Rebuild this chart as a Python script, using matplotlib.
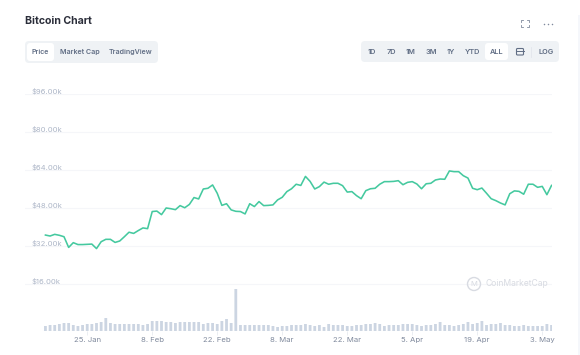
import pandas as pd
import matplotlib
matplotlib.use('Agg')
import matplotlib.pyplot as plt
from matplotlib.patches import FancyBboxPatch, Rectangle, Circle

plt.rcParams['font.family'] = ['Inter', 'DejaVu Sans']

# Daily values
start_date = '2021-01-16'
prices = [36.6, 36.2, 36.9, 36.5, 35.9, 31.4, 33.4, 32.6, 32.6, 32.7,
          32.8, 30.9, 33.8, 34.8, 34.8, 33.5, 34.1, 35.9, 37.8, 37.3,
          38.5, 39.6, 39.3, 46.5, 46.7, 45.2, 48.0, 47.7, 47.3, 49.0,
          48.1, 49.5, 52.4, 51.8, 56.0, 56.3, 57.7, 54.2, 49.1, 49.8,
          47.2, 46.6, 46.5, 45.5, 49.8, 48.6, 50.7, 49.0, 49.1, 49.3,
          51.4, 52.5, 54.9, 56.1, 58.0, 57.5, 61.3, 59.2, 56.0, 57.0,
          58.9, 58.0, 58.4, 58.4, 57.4, 54.7, 54.9, 53.2, 51.9, 55.3,
          56.1, 56.3, 58.0, 59.1, 59.1, 59.2, 59.5, 57.8, 58.8, 59.1,
          58.1, 56.1, 58.2, 58.4, 59.8, 60.2, 60.1, 63.6, 63.3, 63.3,
          61.6, 60.6, 56.3, 55.7, 56.4, 54.2, 51.9, 51.1, 50.1, 49.3,
          54.0, 55.2, 55.0, 53.8, 58.0, 58.0, 56.7, 57.1, 53.6, 57.5]
volumes = [50, 60, 60, 70, 80, 80, 60, 50, 60, 70,
           70, 80, 90, 130, 80, 70, 70, 70, 70, 70,
           70, 60, 70, 100, 100, 100, 90, 90, 80, 90,
           90, 90, 90, 90, 70, 80, 80, 70, 100, 120,
           80, 420, 60, 60, 60, 60, 60, 60, 60, 50,
           40, 50, 50, 60, 60, 60, 70, 60, 50, 60,
           40, 70, 60, 60, 60, 50, 50, 60, 60, 70,
           70, 80, 70, 50, 60, 60, 60, 70, 70, 70,
           60, 50, 60, 60, 70, 90, 60, 60, 50, 60,
           70, 90, 70, 80, 100, 60, 70, 70, 80, 60,
           60, 50, 50, 60, 50, 50, 50, 50, 70, 60]
price_ticks = [16, 32, 48, 64, 80, 96]
price_labels = ['$16.00k', '$32.00k', '$48.00k', '$64.00k', '$80.00k', '$96.00k']
date_ticks = ['2021-01-25', '2021-02-08', '2021-02-22', '2021-03-08',
              '2021-03-22', '2021-04-05', '2021-04-19', '2021-05-03']
date_labels = ['25. Jan', '8. Feb', '22. Feb', '8. Mar',
               '22. Mar', '5. Apr', '19. Apr', '3. May']
tabs = ['Price', 'Market Cap', 'TradingView']
ranges = ['1D', '7D', '1M', '3M', '1Y', 'YTD', 'ALL']

W, H = 580, 355
fig = plt.figure(figsize=(W / 100, H / 100), dpi=100)

dates = pd.date_range(start_date, periods=len(prices), freq='D')

# Chart area: 25..552 px across, 94..331 px down
ax = fig.add_axes([25 / W, (H - 331) / H, 527 / W, 237 / H])
ax.set_xlim(dates[0] - pd.Timedelta(days=4.4), dates[0] + pd.Timedelta(days=109.1))
ax.set_ylim(-3.8, 96)
ax.set_yticks(price_ticks)
ax.set_yticklabels([])
ax.tick_params(axis='y', length=0)
ax.grid(axis='y', color='#f5f6f9', lw=0.8)
ax.set_axisbelow(True)
for s in ['top', 'right', 'left', 'bottom']:
    ax.spines[s].set_visible(False)
ax.patch.set_alpha(0)
for v, lab in zip(price_ticks, price_labels):
    ax.annotate(lab, xy=(0, v), xycoords=ax.get_yaxis_transform(), xytext=(4.5, -0.4),
                textcoords='offset points', fontsize=5.5, color='#aeb7c8', va='bottom', ha='left')

ax.set_xticks(pd.to_datetime(date_ticks))
ax.set_xticklabels(date_labels, fontsize=5.6, color='#808a9d')
ax.tick_params(axis='x', length=3, width=0.6, color='#e8ebf0', pad=1)

# Volume bars on their own scale, baseline at the axes bottom
ax_vol = ax.twinx()
ax_vol.set_ylim(0, 2370)
vol_bars = ax_vol.bar(dates, volumes, width=0.6, color='#ccd5e2', linewidth=0)
for b in vol_bars:
    b.set_snap(False)  # keep every bar the same width
ax_vol.axhline(0, color='#e8ebf0', lw=0.8, xmin=0.035, xmax=0.995)
ax_vol.set_yticks([])
for s in ['top', 'right', 'left', 'bottom']:
    ax_vol.spines[s].set_visible(False)

ax_price = ax.twinx()
ax_price.set_ylim(ax.get_ylim())
ax_price.plot(dates, prices, color='#45c99f', lw=1.15, solid_joinstyle='round')
ax_price.set_yticks([])
for s in ['top', 'right', 'left', 'bottom']:
    ax_price.spines[s].set_visible(False)

# Page chrome in pixel coordinates
ui = fig.add_axes([0, 0, 1, 1], zorder=5)
ui.set_xlim(0, W)
ui.set_ylim(H, 0)
ui.axis('off')


def pill(x0, y0, x1, y1, color, r=3):
    ui.add_patch(FancyBboxPatch((x0 + r, y0 + r), x1 - x0 - 2 * r, y1 - y0 - 2 * r,
                                boxstyle=f'round,pad={r},rounding_size={r}', fc=color, ec='none'))


ui.text(25, 21, 'Bitcoin Chart', fontsize=7.6, fontweight='bold', color='#2b2e3a', va='center')

pill(25, 41, 158, 63, '#eff2f5', 4)
pill(27, 43, 54, 61, '#ffffff', 3)
for x, lab in zip([40.5, 80, 131], tabs):
    ui.text(x, 52, lab, fontsize=5.1, fontweight='semibold', color='#616e85', ha='center', va='center')

pill(361, 41, 559, 62, '#eff2f5', 4)
pill(485, 43, 508, 60, '#ffffff', 3)
for x, lab in zip([372, 391, 411, 431, 451, 473, 496.5], ranges):
    ui.text(x, 51.7, lab, fontsize=5.3, fontweight='semibold', color='#616e85', ha='center', va='center')
ui.text(546, 51.7, 'LOG', fontsize=5.3, fontweight='semibold', color='#616e85', ha='center', va='center')
ui.plot([531, 531], [47, 57], color='#e3e6ec', lw=0.6)

# Calendar icon
ui.add_patch(FancyBboxPatch((516.5, 48.5), 7, 6.5, boxstyle='round,pad=0,rounding_size=1',
                            fc='none', ec='#616e85', lw=0.8))
ui.plot([516.5, 523.5], [50.7, 50.7], color='#616e85', lw=0.7)

# Fullscreen and menu icons
for cx, cy, dx, dy in [(521, 20, 1, 1), (529, 20, -1, 1), (521, 27, 1, -1), (529, 27, -1, -1)]:
    ui.plot([cx + 2 * dx, cx, cx], [cy, cy, cy + 2 * dy], color='#808a9d', lw=0.6)
ui.scatter([544, 548, 552], [24, 24, 24], s=1.2, color='#808a9d', linewidths=0)

# Watermark
ui.add_patch(Circle((474, 284), 6.5, fc='none', ec='#d8dbe2', lw=1))
ui.text(474, 284, 'M', fontsize=5.5, color='#d8dbe2', ha='center', va='center')
ui.text(485.5, 284, 'CoinMarketCap', fontsize=6.2, color='#d8dbe2', va='center')

# Edge of the neighbouring panel
ui.add_patch(Rectangle((578, 15), 2, 340, fc='#f5f7fb', ec='none'))

fig.savefig('out.png', dpi=100)
